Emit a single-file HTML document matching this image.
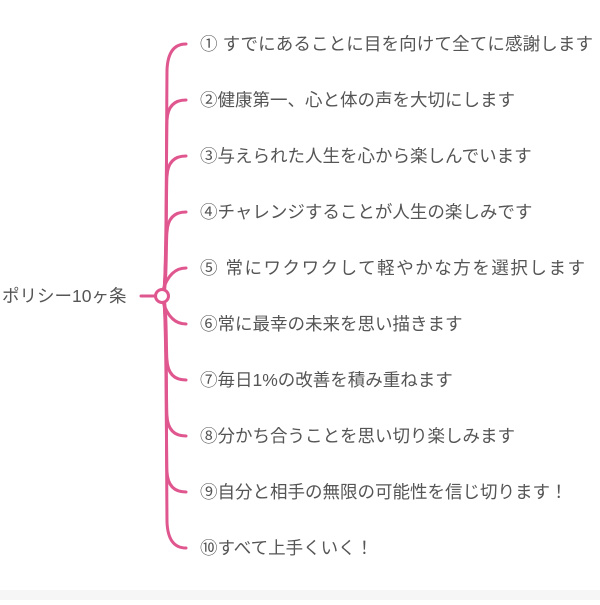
<!DOCTYPE html><html><head><meta charset="utf-8"><style>
body{margin:0;background:#fff;width:600px;height:600px;overflow:hidden}
svg text{font-family:"Liberation Sans","Noto Sans CJK JP",sans-serif;fill:#555;font-size:17.5px}
</style></head><body>
<svg width="600" height="600" viewBox="0 0 600 600">
<rect x="0" y="590" width="600" height="10" fill="#f6f6f6"/>
<g stroke="#e0578f" stroke-width="3" fill="none" stroke-linecap="round">
<line x1="141" y1="296" x2="156" y2="296"/>
<path d="M163 296 C167 280,166 200,167 70 Q168 44,186 44"/>
<path d="M163 296 C167 290,166 140,167 120 Q168 100,186 100"/>
<path d="M163 296 C167 290,166 180,167 176 Q168 156,186 156"/>
<path d="M163 296 C167 290,166 236,167 232 Q168 212,186 212"/>
<path d="M163 290 Q170 268,186 268"/>
<path d="M163 302 Q170 324,186 324"/>
<path d="M163 296 C167 302,166 356,167 360 Q168 380,186 380"/>
<path d="M163 296 C167 302,166 412,167 416 Q168 436,186 436"/>
<path d="M163 296 C167 302,166 468,167 472 Q168 492,186 492"/>
<path d="M163 296 C167 312,166 400,167 522 Q168 548,186 548"/>
<circle cx="162" cy="296" r="6.5" fill="#fff"/>
</g>
<text x="2" y="302" font-size="16.5">ポリシー10ヶ条</text>
<text x="200" y="50" textLength="393">① すでにあることに目を向けて全てに感謝します</text>
<text x="200" y="106">②健康第一、心と体の声を大切にします</text>
<text x="200" y="162">③与えられた人生を心から楽しんでいます</text>
<text x="200" y="218">④チャレンジすることが人生の楽しみです</text>
<text x="200" y="274" textLength="385">⑤ 常にワクワクして軽やかな方を選択します</text>
<text x="200" y="330">⑥常に最幸の未来を思い描きます</text>
<text x="200" y="386">⑦毎日1%の改善を積み重ねます</text>
<text x="200" y="442">⑧分かち合うことを思い切り楽しみます</text>
<text x="200" y="498">⑨自分と相手の無限の可能性を信じ切ります！</text>
<text x="200" y="554">⑩すべて上手くいく！</text>
</svg></body></html>
